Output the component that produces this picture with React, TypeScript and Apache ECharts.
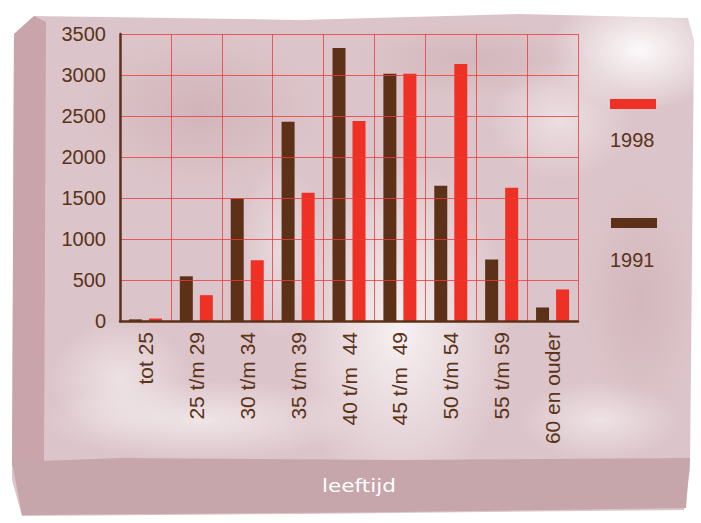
import React, { useEffect, useRef } from "react";
import * as echarts from "echarts";

const categories = ["tot 25", "25 t/m 29", "30 t/m 34", "35 t/m 39", "40 t/m  44", "45 t/m  49", "50 t/m 54", "55 t/m 59", "60 en ouder"];
const values1991 = [20, 545, 1495, 2430, 3330, 3015, 1650, 750, 165];
const values1998 = [30, 315, 740, 1565, 2440, 3015, 3135, 1625, 385];
const seriesNames = ["1991", "1998"];
const yTicks = { min: 0, max: 3500, step: 500 };
const axisTitle = "leeftijd";

const BROWN = "#5c3118";
const RED = "#ee3124";
const TXT = "#5a3318";
const FONT = "Liberation Sans, Arial, sans-serif";

function spot(cx: number, cy: number, rx: number, ry: number, color: string, a: number) {
  return {
    type: "ellipse",
    shape: { cx, cy, rx, ry },
    style: {
      fill: new echarts.graphic.RadialGradient(0.5, 0.5, 0.5, [
        { offset: 0, color: color.replace("A", String(a)) },
        { offset: 1, color: color.replace("A", "0") },
      ]),
    },
    silent: true,
  };
}

export default function App() {
  const ref = useRef<HTMLDivElement>(null);
  useEffect(() => {
    if (!ref.current) return;
    const chart = echarts.init(ref.current, null, { renderer: "svg" });
    const W = "rgba(255,255,255,A)";
    const D = "rgba(190,150,158,A)";
    chart.setOption({
      animation: false,
      backgroundColor: "#ffffff",
      textStyle: { fontFamily: FONT },
      grid: {
        left: 120,
        top: 34,
        right: 123,
        bottom: 202,
        show: true,
        borderColor: "rgba(238,60,55,0.8)",
        borderWidth: 1,
        backgroundColor: "transparent",
      },
      graphic: [
        {
          type: "polygon",
          shape: { points: [[14, 34], [34, 16], [300, 20], [520, 14], [688, 18], [694, 40], [690, 470], [684, 510], [300, 514], [22, 516], [12, 480]] },
          style: { fill: "#dcc5ca" },
          silent: true,
        },
        {
          type: "polygon",
          shape: { points: [[14, 34], [34, 16], [46, 22], [44, 466], [12, 466]] },
          style: { fill: "#c9a4ab" },
          silent: true,
        },
        spot(400, 330, 110, 170, W, 0.75),
        spot(640, 50, 90, 60, W, 0.9),
        spot(560, 120, 70, 60, W, 0.45),
        spot(200, 420, 160, 40, W, 0.55),
        spot(120, 380, 70, 60, W, 0.5),
        spot(600, 420, 80, 40, W, 0.5),
        spot(280, 250, 40, 90, W, 0.35),
        spot(200, 110, 120, 80, D, 0.35),
        spot(470, 60, 120, 40, D, 0.3),
        spot(640, 300, 60, 120, D, 0.3),
        {
          type: "polygon",
          shape: { points: [[12, 462], [120, 458], [400, 460], [690, 458], [686, 508], [400, 512], [22, 515]] },
          style: { fill: "#c6a6ab" },
          silent: true,
        },
        {
          type: "text",
          x: 359,
          y: 486,
          scaleX: 1.2,
          style: {
            text: axisTitle,
            fill: "#ffffff",
            fontSize: 18,
            fontFamily: "DejaVu Sans, sans-serif",
            align: "center",
            verticalAlign: "middle",
          },
        },
        { type: "rect", shape: { x: 610, y: 99, width: 46, height: 10 }, style: { fill: RED } },
        {
          type: "text",
          x: 610,
          y: 140,
          style: { text: seriesNames[1], fill: TXT, fontSize: 20, fontFamily: FONT, verticalAlign: "middle" },
        },
        { type: "rect", shape: { x: 611, y: 218, width: 46, height: 10 }, style: { fill: BROWN } },
        {
          type: "text",
          x: 610,
          y: 260,
          style: { text: seriesNames[0], fill: TXT, fontSize: 20, fontFamily: FONT, verticalAlign: "middle" },
        },
      ],
      xAxis: {
        type: "category",
        data: categories,
        boundaryGap: true,
        axisLine: { show: true, lineStyle: { color: BROWN, width: 2.5 } },
        axisTick: { show: false },
        axisLabel: { rotate: 90, interval: 0, margin: 11, color: TXT, fontSize: 21 },
        splitLine: { show: true, interval: 0, lineStyle: { color: "rgba(238,60,55,0.8)", width: 1 } },
        z: 5,
      },
      yAxis: {
        type: "value",
        min: yTicks.min,
        max: yTicks.max,
        interval: yTicks.step,
        axisLine: { show: true, lineStyle: { color: BROWN, width: 2.5 } },
        axisTick: { show: false },
        axisLabel: { color: TXT, fontSize: 20, margin: 14, formatter: (v: number) => String(v) },
        splitLine: { show: true, lineStyle: { color: "rgba(238,60,55,0.8)", width: 1 } },
        z: 5,
      },
      series: [
        { name: seriesNames[0], type: "bar", data: values1991, barWidth: 13, barGap: "54%", itemStyle: { color: BROWN } },
        { name: seriesNames[1], type: "bar", data: values1998, barWidth: 13, barGap: "54%", itemStyle: { color: RED } },
      ],
    });
    return () => chart.dispose();
  }, []);
  return <div ref={ref} style={{ width: 701, height: 523, position: "absolute", left: 0, top: 0 }} />;
}
